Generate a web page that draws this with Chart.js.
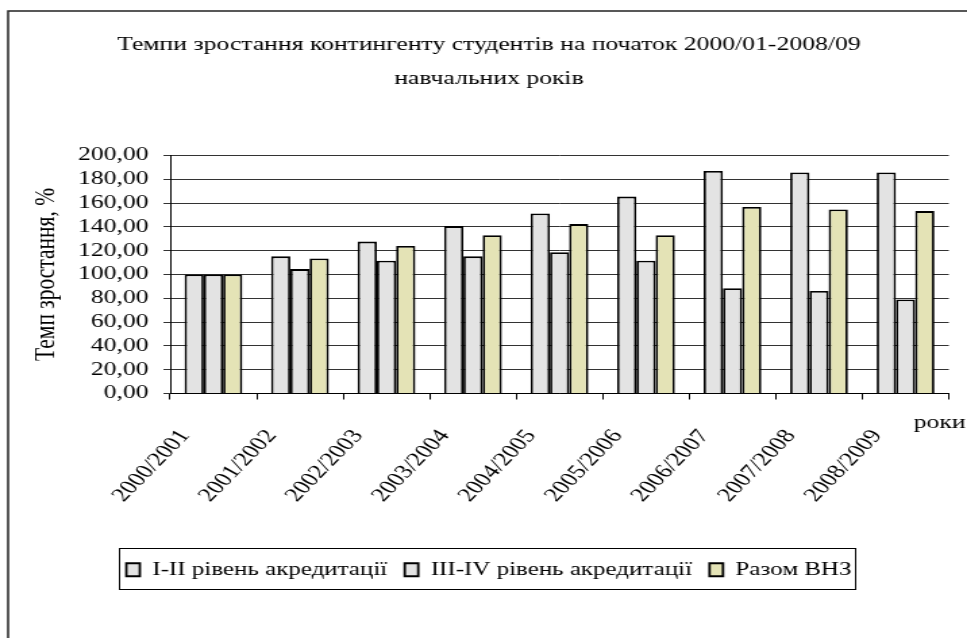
<!DOCTYPE html>
<html>
<head>
<meta charset="utf-8">
<script src="https://cdn.jsdelivr.net/npm/chart.js@4.4.1/dist/chart.umd.min.js"></script>
<style>
  html, body { margin: 0; padding: 0; background: #fff; overflow: hidden; }
  #wrap { position: absolute; left: 0; top: 0; width: 716px; height: 638px; transform: scaleX(1.3506); transform-origin: 0 0; }
</style>
</head>
<body>
<div id="wrap"><canvas id="c"></canvas></div>
<script>
const categories = ['2000/2001', '2001/2002', '2002/2003', '2003/2004', '2004/2005', '2005/2006', '2006/2007', '2007/2008', '2008/2009'];
const level12 = [100.0, 115.2, 127.6, 140.6, 151.3, 165.4, 187.0, 185.6, 185.6];
const level34 = [100.0, 104.5, 111.5, 115.2, 118.6, 111.5, 88.5, 86.2, 78.9];
const totalVNZ = [100.0, 113.5, 124.0, 133.0, 142.3, 133.0, 156.6, 154.6, 153.2];
const seriesNames = ['I-II рівень акредитації', 'III-IV рівень акредитації', 'Разом ВНЗ'];
const titleLines = ['Темпи зростання контингенту студентів на початок 2000/01-2008/09', 'навчальних років'];
const yTitle = 'Темп зростання, %';
const xUnit = 'роки';

const FONT = '"Liberation Serif", "Times New Roman", serif';

const decor = {
  id: 'decor',
  beforeDraw(chart) {
    const ctx = chart.ctx;
    ctx.save();
    ctx.fillStyle = '#fff';
    ctx.fillRect(0, 0, chart.width, chart.height);
    ctx.strokeStyle = '#222';
    ctx.lineWidth = 1.5;
    ctx.beginPath();
    ctx.moveTo(6, chart.height);
    ctx.lineTo(6, 11);
    ctx.lineTo(chart.width, 11);
    ctx.stroke();
    ctx.restore();
  },
  afterDraw(chart) {
    const ctx = chart.ctx;
    const ca = chart.chartArea;
    ctx.save();
    ctx.fillStyle = '#000';
    ctx.font = '19px ' + FONT;
    ctx.textAlign = 'left';
    ctx.textBaseline = 'middle';
    ctx.fillText(xUnit, ca.right - 26, ca.bottom + 30);
    const lg = chart.legend;
    if (lg && lg.legendHitBoxes && lg.legendHitBoxes.length) {
      let l = Infinity, r = -Infinity;
      lg.legendHitBoxes.forEach(h => { l = Math.min(l, h.left); r = Math.max(r, h.left + h.width); });
      ctx.strokeStyle = '#000';
      ctx.lineWidth = 1;
      ctx.strokeRect(Math.round(l - 6) + 0.5, Math.round(lg.top) + 0.5, Math.round(r - l + 8), Math.round(lg.height - 1));
    }
    ctx.restore();
  }
};

new Chart(document.getElementById('c'), {
  type: 'bar',
  data: {
    labels: categories,
    datasets: [
      { label: seriesNames[0], data: level12, backgroundColor: '#e3e3e3', borderColor: '#000', borderWidth: 1.8 },
      { label: seriesNames[1], data: level34, backgroundColor: '#e3e3e3', borderColor: '#000', borderWidth: 1.8 },
      { label: seriesNames[2], data: totalVNZ, backgroundColor: '#e4e3b6', borderColor: '#000', borderWidth: 1.8 }
    ]
  },
  options: {
    responsive: true,
    maintainAspectRatio: false,
    animation: false,
    events: [],
    datasets: { bar: { categoryPercentage: 0.667, barPercentage: 1.0 } },
    layout: { padding: { left: 21, right: 13, top: 0, bottom: 49 } },
    plugins: {
      title: {
        display: true,
        text: titleLines,
        color: '#000',
        font: { family: FONT, size: 19, weight: 'normal', lineHeight: 1.8 },
        padding: { top: 28, bottom: 59 }
      },
      legend: {
        position: 'bottom',
        labels: {
          color: '#000',
          font: { family: FONT, size: 18.5 },
          boxWidth: 10,
          boxHeight: 13,
          padding: 13
        }
      },
      tooltip: { enabled: false }
    },
    scales: {
      x: {
        afterFit(scale) { scale.height = 154; },
        grid: { display: true, drawOnChartArea: false, color: '#000', tickLength: 6, offset: true },
        border: { color: '#000', width: 1 },
        ticks: {
          color: '#000',
          font: { family: FONT, size: 19.5 },
          minRotation: 53.5,
          maxRotation: 53.5,
          autoSkip: false,
          labelOffset: -21,
          padding: 26
        }
      },
      y: {
        min: 0,
        max: 200,
        afterFit(scale) { scale.width = 105; },
        grid: { color: '#333', lineWidth: 1, tickLength: 5 },
        border: { color: '#000', width: 1 },
        ticks: {
          stepSize: 20,
          autoSkip: false,
          color: '#000',
          padding: 11,
          font: { family: FONT, size: 19 },
          callback: v => v.toFixed(2).replace('.', ',')
        },
        title: {
          display: true,
          text: yTitle,
          color: '#000',
          font: { family: FONT, size: 21.5 },
          padding: { top: 0, bottom: 0 }
        }
      }
    }
  },
  plugins: [decor]
});
</script>
</body>
</html>
